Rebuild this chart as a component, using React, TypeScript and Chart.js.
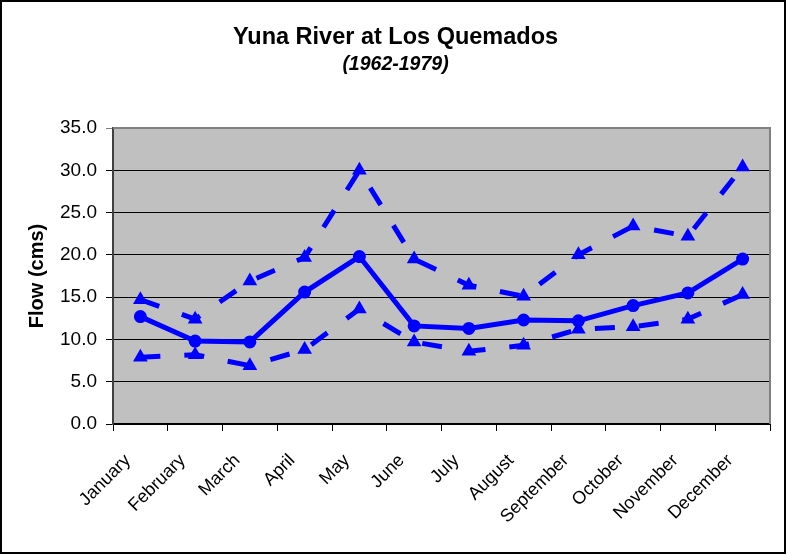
import React, { useEffect, useRef } from 'react';
import { Chart, registerables } from 'chart.js';

Chart.register(...registerables);

const months = ['January', 'February', 'March', 'April', 'May', 'June', 'July', 'August', 'September', 'October', 'November', 'December'];
const meanFlow = [12.7, 9.8, 9.7, 15.6, 19.8, 11.6, 11.3, 12.3, 12.2, 14.0, 15.5, 19.5];
const upperFlow = [14.7, 12.4, 16.9, 19.7, 30.0, 19.5, 16.4, 15.1, 20.0, 23.4, 22.2, 30.4];
const lowerFlow = [7.9, 8.2, 6.9, 8.8, 13.6, 9.7, 8.6, 9.3, 11.2, 11.5, 12.4, 15.3];
const yMin = 0;
const yMax = 35;
const yStep = 5;

const titleText = 'Yuna River at Los Quemados';
const subtitleText = '(1962-1979)';
const yAxisTitle = 'Flow (cms)';

const BLUE = '#0000FF';

const framePlugin = {
  id: 'frame',
  beforeDraw(chart: any) {
    const { ctx, chartArea: a } = chart;
    ctx.save();
    ctx.fillStyle = '#FFFFFF';
    ctx.fillRect(0, 0, chart.width, chart.height);
    ctx.fillStyle = '#C0C0C0';
    ctx.fillRect(a.left, a.top, a.right - a.left, a.bottom - a.top);
    ctx.restore();
  },
  beforeDatasetsDraw(chart: any) {
    const { ctx, chartArea: a } = chart;
    ctx.save();
    ctx.strokeStyle = '#808080';
    ctx.lineWidth = 2;
    ctx.beginPath();
    ctx.moveTo(a.left, a.top);
    ctx.lineTo(a.right, a.top);
    ctx.lineTo(a.right, a.bottom);
    ctx.stroke();
    ctx.restore();
  },
  afterDraw(chart: any) {
    const { ctx } = chart;
    ctx.save();
    ctx.strokeStyle = '#000000';
    ctx.lineWidth = 2;
    ctx.strokeRect(1, 1, chart.width - 3, chart.height - 3);
    ctx.restore();
  },
};

export default function App() {
  const canvasRef = useRef<HTMLCanvasElement | null>(null);

  useEffect(() => {
    if (!canvasRef.current) return;
    Chart.defaults.font.family = '"Liberation Sans", Arial, sans-serif';
    Chart.defaults.color = '#000000';

    const dashed = {
      borderColor: BLUE,
      backgroundColor: BLUE,
      borderWidth: 5,
      borderDash: [20, 24],
      borderCapStyle: 'butt',
      pointStyle: 'triangle',
      pointRadius: 8.5,
      pointBorderWidth: 0,
      tension: 0,
      fill: false,
    };

    const chart = new Chart(canvasRef.current, {
      type: 'line',
      data: {
        labels: months,
        datasets: [
          { label: 'Upper', data: upperFlow, ...dashed },
          { label: 'Lower', data: lowerFlow, ...dashed },
          {
            label: 'Mean',
            data: meanFlow,
            borderColor: BLUE,
            backgroundColor: BLUE,
            borderWidth: 5,
            pointStyle: 'circle',
            pointRadius: 5.5,
            pointBorderWidth: 2,
            tension: 0,
            fill: false,
          },
        ],
      },
      options: {
        animation: false,
        responsive: false,
        devicePixelRatio: 1,
        layout: { padding: { left: 21, right: 17, top: 0, bottom: 0 } },
        plugins: {
          legend: { display: false },
          tooltip: { enabled: false },
          title: {
            display: true,
            text: titleText,
            color: '#000000',
            font: { size: 23.5, weight: 'bold', lineHeight: 1.2 },
            padding: { top: 23, bottom: 0 },
          },
          subtitle: {
            display: true,
            text: subtitleText,
            color: '#000000',
            font: { size: 19.5, weight: 'bold', style: 'italic', lineHeight: 1.2 },
            padding: { top: 2, bottom: 51.4 },
          },
        },
        scales: {
          x: {
            type: 'category',
            offset: true,
            grid: {
              display: true,
              offset: true,
              drawOnChartArea: false,
              drawTicks: true,
              tickLength: 7,
              color: '#000000',
              lineWidth: 1,
            },
            border: { display: true, color: '#000000', width: 2 },
            ticks: {
              minRotation: 45,
              maxRotation: 45,
              autoSkip: false,
              padding: 19,
              labelOffset: -12.5,
              color: '#000000',
              font: { size: 18 },
            },
            afterFit: (scale: any) => {
              scale.height = 131;
            },
          },
          y: {
            min: yMin,
            max: yMax,
            grid: {
              color: (c: any) => (c.tick && c.tick.value === yMax ? '#808080' : '#000000'),
              lineWidth: 1,
              drawTicks: true,
              tickLength: 7,
            },
            border: { display: true, color: '#404040', width: 2 },
            ticks: {
              stepSize: yStep,
              padding: 9,
              color: '#000000',
              font: { size: 19 },
              callback: (v: any) => Number(v).toFixed(1),
            },
            title: {
              display: true,
              text: yAxisTitle,
              color: '#000000',
              font: { size: 20, weight: 'bold', lineHeight: 1.2 },
              padding: { top: 4, bottom: 4 },
            },
            afterFit: (scale: any) => {
              scale.width = 92;
            },
          },
        },
      },
      plugins: [framePlugin],
    } as any);

    return () => {
      chart.destroy();
    };
  }, []);

  return (
    <div style={{ position: 'fixed', left: 0, top: 0, width: 787, height: 555, background: '#fff' }}>
      <canvas ref={canvasRef} width={787} height={555} style={{ display: 'block', width: 787, height: 555 }} />
    </div>
  );
}
